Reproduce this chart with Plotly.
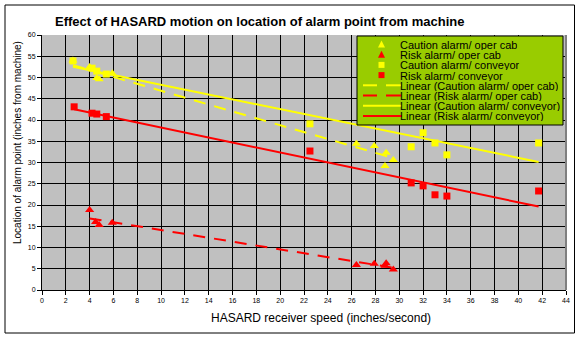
import numpy as np
import plotly.graph_objects as go

# Receiver speed (inches/second) and alarm point distance (inches)
caution_cab_x = [2.6, 4.0, 4.6, 4.8, 5.9, 26.4, 27.9, 28.9, 29.5, 28.8]
caution_cab_y = [54.0, 52.5, 49.9, 49.6, 51.0, 34.4, 33.9, 32.3, 30.6, 29.2]

risk_cab_x = [4.0, 4.5, 4.8, 5.9, 26.4, 27.9, 28.8, 28.9, 29.5]
risk_cab_y = [18.8, 16.0, 15.3, 15.8, 5.9, 6.2, 5.7, 6.3, 4.8]

caution_conv_x = [2.6, 4.2, 4.6, 5.4, 22.5, 31.0, 32.0, 33.0, 34.0, 41.7]
caution_conv_y = [53.9, 52.2, 51.5, 50.8, 39.1, 33.7, 37.0, 34.6, 31.8, 34.6]

risk_conv_x = [2.7, 4.2, 4.6, 5.4, 22.5, 31.0, 32.0, 33.0, 34.0, 41.7]
risk_conv_y = [43.1, 41.6, 41.4, 40.8, 32.7, 25.2, 24.5, 22.4, 22.1, 23.3]

x_ticks = list(range(0, 45, 2))
y_ticks = list(range(0, 61, 5))

YELLOW = "#FFFF00"
RED = "#FF0000"
LEGEND_GREEN = "#99CC00"
FONT = "Liberation Sans, Arial, sans-serif"
DASH = "12px,9px"

# plot-area geometry in pixels (used to place paper-referenced decorations)
L, R, T, B = 42, 566, 35, 290
W, H = R - L, B - T


def px_x(p):
    return (p - L) / W


def px_y(p):
    return (B - p) / H


def trend(xs, ys):
    slope, icpt = np.polyfit(xs, ys, 1)
    xe = np.array([min(xs), max(xs)])
    return xe, slope * xe + icpt


fig = go.Figure()

marker_series = [
    ("Caution alarm/ oper cab", caution_cab_x, caution_cab_y, "triangle-up", YELLOW, 8),
    ("Risk alarm/ oper cab", risk_cab_x, risk_cab_y, "triangle-up", RED, 8),
    ("Caution alarm/ conveyor", caution_conv_x, caution_conv_y, "square", YELLOW, 7),
    ("Risk alarm/ conveyor", risk_conv_x, risk_conv_y, "square", RED, 7),
]
for name, xs, ys, sym, col, sz in marker_series:
    fig.add_trace(go.Scatter(
        x=xs, y=ys, mode="markers", name=name, showlegend=False,
        marker=dict(symbol=sym, color=col, size=sz, line=dict(width=0)),
    ))

line_series = [
    ("Linear (Caution alarm/ oper cab)", caution_cab_x, caution_cab_y, YELLOW, DASH),
    ("Linear (Risk alarm/ oper cab)", risk_cab_x, risk_cab_y, RED, DASH),
    ("Linear (Caution alarm/ conveyor)", caution_conv_x, caution_conv_y, YELLOW, "solid"),
    ("Linear (Risk alarm/ conveyor)", risk_conv_x, risk_conv_y, RED, "solid"),
]
for name, xs, ys, col, dash in line_series:
    tx, ty = trend(xs, ys)
    fig.add_trace(go.Scatter(
        x=tx, y=ty, mode="lines", name=name, showlegend=False,
        line=dict(color=col, width=2, dash=dash),
    ))

# Compact legend box (Excel style), drawn as paper shapes + text
LG_L, LG_R, LG_T, LG_B = 357, 563, 36, 125
ROW0, ROW_STEP = 44.5, 10.2
SYM_CX, TEXT_X = 381.5, 399

shapes = [
    dict(type="rect", xref="paper", yref="paper",
         x0=px_x(LG_L), x1=px_x(LG_R), y0=px_y(LG_B), y1=px_y(LG_T),
         fillcolor=LEGEND_GREEN, line=dict(color="black", width=1), layer="above"),
]
annotations = []

entries = [(n, "marker", sym, col) for n, _, _, sym, col, _ in marker_series]
entries += [(n, "line", dash, col) for n, _, _, col, dash in line_series]

for i, (name, kind, style, col) in enumerate(entries):
    cy = ROW0 + i * ROW_STEP
    if kind == "marker":
        if style == "triangle-up":
            path = "M {} {} L {} {} L {} {} Z".format(
                px_x(SYM_CX - 3.5), px_y(cy + 3), px_x(SYM_CX + 3.5), px_y(cy + 3),
                px_x(SYM_CX), px_y(cy - 4))
            shapes.append(dict(type="path", xref="paper", yref="paper", path=path,
                               fillcolor=col, line=dict(width=0), layer="above"))
        else:
            shapes.append(dict(type="rect", xref="paper", yref="paper",
                               x0=px_x(SYM_CX - 3), x1=px_x(SYM_CX + 3),
                               y0=px_y(cy + 3), y1=px_y(cy - 3),
                               fillcolor=col, line=dict(width=0), layer="above"))
    else:
        segs = [(363, 402)] if style == "solid" else [(363, 377), (386, 401)]
        for a, b in segs:
            shapes.append(dict(type="line", xref="paper", yref="paper",
                               x0=px_x(a), x1=px_x(b), y0=px_y(cy), y1=px_y(cy),
                               line=dict(color=col, width=2), layer="above"))
    annotations.append(dict(
        text=name, x=px_x(TEXT_X), y=px_y(cy + 0.5), xref="paper", yref="paper",
        xanchor="left", yanchor="middle", showarrow=False, borderpad=0,
        height=10, valign="middle",
        font=dict(size=11, family=FONT)))

annotations += [
    dict(text="<b>Effect of HASARD motion on location of alarm point from machine</b>",
         x=px_x(260), y=px_y(22), xref="paper", yref="paper",
         xanchor="center", yanchor="middle", showarrow=False,
         font=dict(size=13, family=FONT)),
    dict(text="HASARD receiver speed (inches/second)",
         x=px_x(321), y=px_y(318), xref="paper", yref="paper",
         xanchor="center", yanchor="middle", showarrow=False,
         font=dict(size=12, family=FONT)),
    dict(text="Location of alarm point (inches from machine)",
         x=px_x(17), y=px_y(143), xref="paper", yref="paper",
         xanchor="center", yanchor="middle", showarrow=False, textangle=-90,
         font=dict(size=10, family=FONT)),
]

shapes += [
    # grey frame on the right edge of the plot area
    dict(type="line", xref="paper", yref="paper", x0=1, x1=1, y0=0, y1=1,
         line=dict(color="#808080", width=2), layer="above"),
    # outer chart border
    dict(type="rect", xref="paper", yref="paper",
         x0=px_x(5), x1=px_x(574.5), y0=px_y(5), y1=px_y(333),
         line=dict(color="black", width=1), layer="below"),
]

fig.update_layout(
    width=582, height=340,
    margin=dict(l=L, r=582 - R, t=T, b=340 - B),
    paper_bgcolor="white",
    plot_bgcolor="#C0C0C0",
    font=dict(family=FONT, color="black"),
    showlegend=False,
    xaxis=dict(
        range=[0, 44], tickvals=x_ticks, ticktext=[str(v) for v in x_ticks],
        showgrid=True, gridcolor="black", gridwidth=1,
        ticks="outside", ticklen=4, tickcolor="black",
        showline=True, linecolor="black", linewidth=1,
        tickfont=dict(size=7, family=FONT), zeroline=False,
    ),
    yaxis=dict(
        range=[0, 60], tickvals=y_ticks, ticktext=[str(v) for v in y_ticks],
        showgrid=True, gridcolor="black", gridwidth=1,
        ticks="outside", ticklen=4, tickcolor="black",
        showline=True, linecolor="black", linewidth=1,
        tickfont=dict(size=7, family=FONT), zeroline=False,
    ),
    annotations=annotations,
    shapes=shapes,
)

fig.write_html("out.html")
